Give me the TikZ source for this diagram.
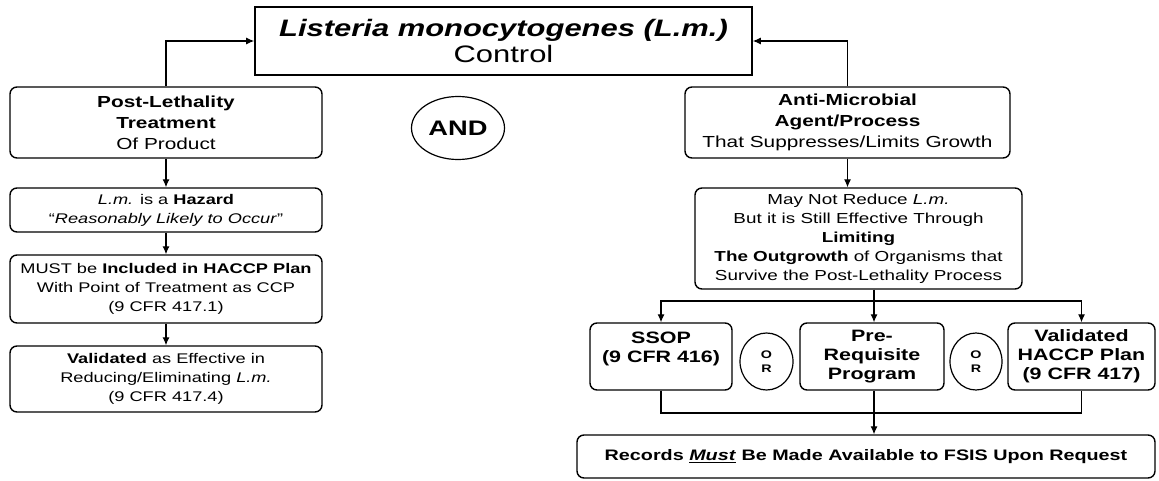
\documentclass[tikz,border=0pt]{standalone}
\usepackage{fontspec}
\setmainfont[FakeStretch=1.3]{Liberation Sans}
\usetikzlibrary{arrows.meta,shapes.geometric}

\tikzset{
  rbox/.style={draw, line width=1.4pt, rounded corners=7pt, align=center, inner sep=0pt,
    font=\fontsize{14}{19}\selectfont},
  tbox/.style={rbox, font=\fontsize{16}{21}\selectfont},
  rowbox/.style={rbox, font=\bfseries\fontsize{16.5}{19}\selectfont},
  orbox/.style={draw, ellipse, line width=1.2pt, inner sep=0pt, align=center,
    font=\bfseries\fontsize{11}{14}\selectfont},
  arr/.style={line width=1.1pt, -{Latex[length=8pt,width=7pt]}},
  link/.style={line width=1.1pt}
}

\begin{document}
\begin{tikzpicture}[x=1pt, y=-1pt]
	\useasboundingbox (0,0) rectangle (1159,481);
	% top of the tree
	\node[draw, line width=1.6pt, align=center, minimum width=497, minimum height=68, inner sep=0pt,
		font=\fontsize{23.8}{26}\selectfont] (top) at (503.5,41)
		{\textbf{\textit{Listeria monocytogenes (L.m.)}}\\Control};
	\node[orbox, minimum width=93, minimum height=63, font=\bfseries\fontsize{21}{24}\selectfont] (and) at (458,128) {AND};
	% left branch
	\node[tbox, minimum width=312, minimum height=71] (post) at (166,122.5)
		{\textbf{Post-Lethality}\\\textbf{Treatment}\\Of Product};
	\node[rbox, minimum width=312, minimum height=44] (haz) at (166,210)
		{\textit{L.m.} is a \textbf{Hazard}\\“\textit{Reasonably Likely to Occur}”};
	\node[rbox, minimum width=312, minimum height=68] (incl) at (166,289)
		{MUST be \textbf{Included in HACCP Plan}\\With Point of Treatment as CCP\\(9 CFR 417.1)};
	\node[rbox, minimum width=312, minimum height=66] (valid) at (166,379)
		{\textbf{Validated} as Effective in\\Reducing/Eliminating \textit{L.m.}\\(9 CFR 417.4)};
	% right branch
	\node[tbox, minimum width=325, minimum height=71] (anti) at (847.5,122.5)
		{\textbf{Anti-Microbial}\\\textbf{Agent/Process}\\That Suppresses/Limits Growth};
	\node[rbox, minimum width=327, minimum height=101, font=\fontsize{14.5}{19}\selectfont] (may) at (858.5,238.5)
		{May Not Reduce \textit{L.m.}\\But it is Still Effective Through\\\textbf{Limiting}\\
		\textbf{The Outgrowth} of Organisms that\\Survive the Post-Lethality Process};
	\node[rowbox, minimum width=142, minimum height=67] (ssop) at (661,356.5)
		{SSOP\\(9 CFR 416)\\\mbox{}};
	\node[orbox, minimum width=53, minimum height=57] (or1) at (766.5,361.5) {O\\R};
	\node[rowbox, minimum width=144, minimum height=67] (prereq) at (872,356.5)
		{Pre-\\Requisite\\Program};
	\node[orbox, minimum width=52, minimum height=57] (or2) at (976,361.5) {O\\R};
	\node[rowbox, minimum width=147, minimum height=67] (haccp) at (1081.5,356.5)
		{Validated\\HACCP Plan\\(9 CFR 417)};
	\node[rbox, minimum width=578, minimum height=43, font=\bfseries\fontsize{15.2}{17.3}\selectfont] (records) at (866,456.5)
		{Records \underline{\textit{Must}} Be Made Available to FSIS Upon Request};
	% connectors
	\draw[arr] (post.north) |- (top.west);
	\draw[arr] (anti.north) |- (top.east);
	\draw[arr] (post.south) -- (haz.north);
	\draw[arr] (haz.south) -- (incl.north);
	\draw[arr] (incl.south) -- (valid.north);
	\draw[arr] (anti.south) -- (anti.south |- may.north);
	\coordinate (split) at (874,301);
	\coordinate (merge) at (874,413);
	\draw[link] (split |- may.south) -- (split);
	\draw[arr] (split) -- (split |- prereq.north);
	\draw[arr] (split) -| (ssop.north);
	\draw[arr] (split) -| (haccp.north);
	\draw[link] (ssop.south) |- (merge) -| (haccp.south);
	\draw[arr] (merge |- prereq.south) -- (merge |- records.north);
\end{tikzpicture}
\end{document}
